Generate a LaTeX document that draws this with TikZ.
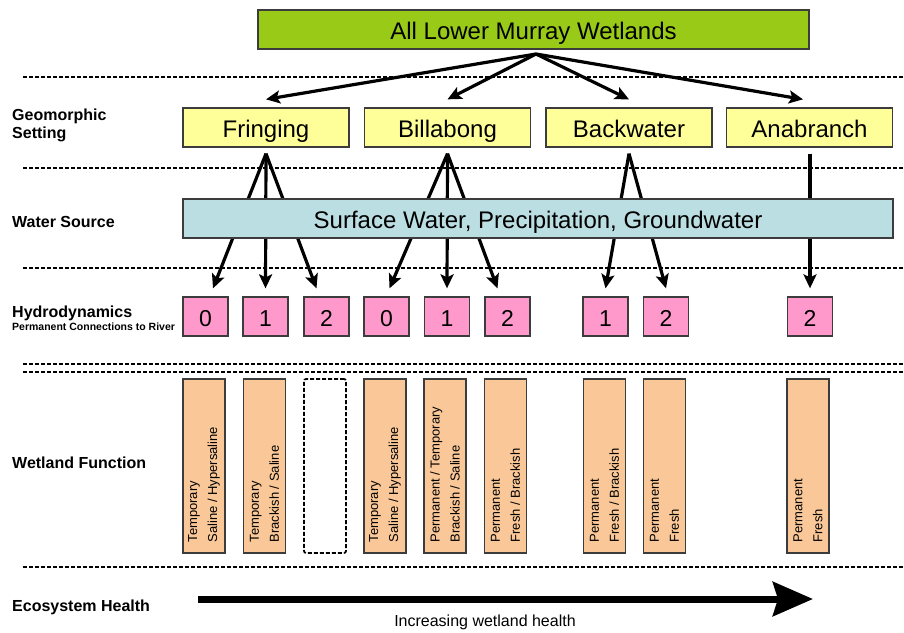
\documentclass[tikz,border=0pt]{standalone}
\usepackage{fontspec}
\setmainfont{Liberation Sans}
\usetikzlibrary{arrows.meta,calc}
\definecolor{grn}{RGB}{153,202,23}
\definecolor{ylw}{RGB}{255,255,153}
\definecolor{blu}{RGB}{187,222,226}
\definecolor{pnk}{RGB}{255,153,204}
\definecolor{org}{RGB}{250,200,152}
\definecolor{bord}{RGB}{60,60,60}
\begin{document}
\begin{tikzpicture}[x=1pt,y=-1pt,
  box/.style={draw=bord, line width=1.3pt, inner sep=0pt, minimum height=39pt,
              text height=20pt, text depth=0pt,
              font=\fontsize{24}{28}\selectfont},
  ybox/.style={box, fill=ylw, minimum width=166pt},
  pbox/.style={box, fill=pnk, minimum width=45pt, font=\fontsize{23}{28}\selectfont},
  obox/.style={draw=bord, line width=1.3pt, fill=org, minimum width=42pt, minimum height=174pt, inner sep=0pt},
  otext/.style={rotate=90, anchor=west, align=left, inner sep=0pt,
                font=\fontsize{13}{20}\selectfont},
  lab/.style={anchor=west, align=left, inner sep=0pt, font=\bfseries\fontsize{16}{18}\selectfont},
  dline/.style={line width=1.4pt, dash pattern=on 4pt off 2pt},
  arr/.style={line width=3.2pt, -{Stealth[length=14pt,width=13pt,inset=3pt]}},
  ln/.style={line width=3.2pt}
]
\path[use as bounding box] (0,0) rectangle (904,632);

% dashed separators
\draw[dline] (23,77) -- (904,77);
\draw[dline] (23,168) -- (904,168);
\draw[dline] (23,268) -- (904,268);
\draw[dline] (23,364) -- (904,364);
\draw[dline] (23,372) -- (904,372);
\draw[dline] (23,567) -- (904,567);

% top box
\node[box, fill=grn, minimum width=551pt] (root) at (533.5,29.5) {All Lower Murray Wetlands};

% geomorphic boxes
\node[ybox] (fring) at (266,127.5) {Fringing};
\node[ybox] (bill) at (447.5,127.5) {Billabong};
\node[ybox] (back) at (629,127.5) {Backwater};
\node[ybox] (anab) at (809.5,127.5) {Anabranch};

% hydrodynamics boxes
\node[pbox] (p1) at (205.5,316.5) {0};
\node[pbox] (p2) at (265.5,316.5) {1};
\node[pbox] (p3) at (326.5,316.5) {2};
\node[pbox] (p4) at (386.5,316.5) {0};
\node[pbox] (p5) at (447,316.5) {1};
\node[pbox] (p6) at (507.5,316.5) {2};
\node[pbox] (p7) at (605.5,316.5) {1};
\node[pbox] (p8) at (666,316.5) {2};
\node[pbox] (p9) at (810,316.5) {2};

% top arrows
\coordinate (apex) at (536,54);
\draw[arr] (apex) -- ($(fring.north)+(0,-8)$);
\draw[arr] (apex) -- ($(bill.north)+(0,-8)$);
\draw[arr] (apex) -- ($(back.north)+(0,-8)$);
\draw[arr] (apex) -- ($(anab.north)+(-6.5,-8)$);

% lower arrows
\coordinate (fa) at ($(fring.south)+(0,6)$);
\coordinate (ba) at ($(bill.south)+(0,6)$);
\coordinate (wa) at ($(back.south)+(0,6)$);
\coordinate (aa) at ($(anab.south)+(0.5,6)$);
\draw[arr] (fa) -- ($(p1.north)+(7.5,-8)$);
\draw[arr] (fa) -- ($(p2.north)+(0,-8)$);
\draw[arr] (fa) -- ($(p3.north)+(-10,-8)$);
\draw[arr] (ba) -- ($(p4.north)+(3,-8)$);
\draw[arr] (ba) -- ($(p5.north)+(0,-8)$);
\draw[arr] (ba) -- ($(p6.north)+(-10,-8)$);
\draw[arr] (wa) -- ($(p7.north)+(0,-8)$);
\draw[arr] (wa) -- ($(p8.north)+(0,-8)$);
\draw[arr] (aa) -- ($(p9.north)+(0,-8)$);

% water source box (drawn over the arrows)
\node[box, fill=blu, minimum width=710pt] (water) at (538,218.5) {Surface Water, Precipitation, Groundwater};

% wetland function boxes
\node[obox] (f1) at (204,466) {};
\node[obox] (f2) at (264.5,466) {};
\node[draw=black, line width=1.7pt, dash pattern=on 4pt off 2pt, rounded corners=2pt,
      minimum width=42pt, minimum height=174pt, inner sep=0pt] (f3) at (325,466) {};
\node[obox] (f4) at (385,466) {};
\node[obox] (f5) at (445,466) {};
\node[obox] (f6) at (505.5,466) {};
\node[obox] (f7) at (604.5,466) {};
\node[obox] (f8) at (664.5,466) {};
\node[obox] (f9) at (808,466) {};

\node[otext] (t1) at ($(f1.south)+(0,-11)$) {Temporary\\Saline / Hypersaline};
\node[otext] (t2) at ($(f2.south)+(0,-11)$) {Temporary\\Brackish / Saline};
\node[otext] (t4) at ($(f4.south)+(0,-11)$) {Temporary\\Saline / Hypersaline};
\node[otext] (t5) at ($(f5.south)+(0,-11)$) {Permanent / Temporary\\Brackish / Saline};
\node[otext] (t6) at ($(f6.south)+(0,-11)$) {Permanent\\Fresh / Brackish};
\node[otext] (t7) at ($(f7.south)+(0,-11)$) {Permanent\\Fresh / Brackish};
\node[otext] (t8) at ($(f8.south)+(0,-11)$) {Permanent\\Fresh};
\node[otext] (t9) at ($(f9.south)+(0,-11)$) {Permanent\\Fresh};

% left labels
\node[lab] (lgeo) at (12,125) {Geomorphic\\Setting};
\node[lab] (lwat) at (12,222) {Water Source};
\node[lab] (lhyd) at (12,313) {Hydrodynamics};
\node[anchor=west, inner sep=0pt, font=\bfseries\fontsize{10.5}{12}\selectfont] (lperm) at (12,327) {Permanent Connections to River};
\node[lab] (lfun) at (12,463) {Wetland Function};
\node[lab] (leco) at (12,607) {Ecosystem Health};

% health arrow
\coordinate (hs) at (198,599);
\coordinate (he) at (813,599);
\draw[line width=7pt, -{Stealth[length=40pt,width=34pt,inset=5pt]}] (hs) -- (he);
\node[inner sep=0pt, font=\fontsize{16}{18}\selectfont] (inc) at (485,622) {Increasing wetland health};
\end{tikzpicture}
\end{document}
